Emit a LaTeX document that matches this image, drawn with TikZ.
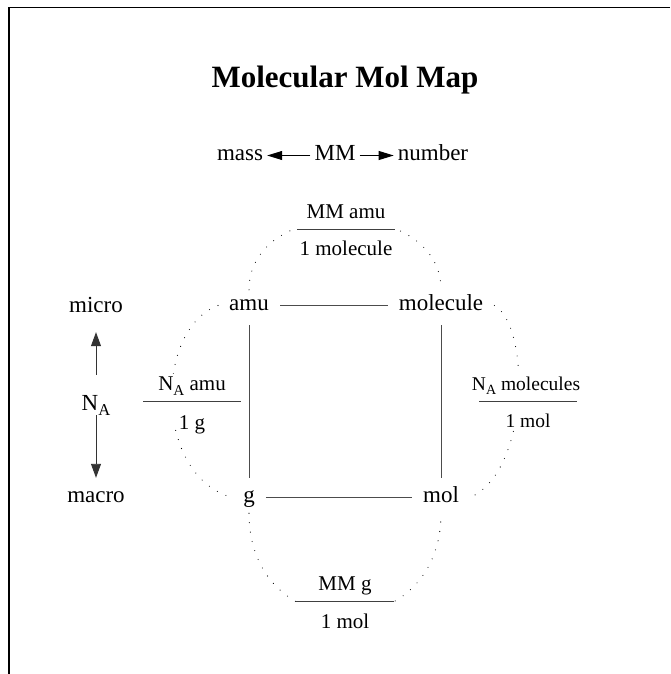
\documentclass[tikz,border=0pt]{standalone}
\usepackage{fontspec}
\usepackage{graphicx}
\setmainfont{Liberation Serif}
\usetikzlibrary{arrows.meta,calc}
\newcommand\NAsub{N\raisebox{-0.25em}{\scalebox{0.72}{A}}}
\begin{document}
\begin{tikzpicture}[x=1pt,y=-1pt,
  lbl/.style={font=\fontsize{23}{27}\selectfont, anchor=base, text height=15pt, text depth=6pt, inner ysep=5pt, inner xsep=11pt},
  toplbl/.style={lbl, inner xsep=4pt},
  fracbox/.style={fill=white, minimum width=97pt, minimum height=54pt, inner sep=0pt},
  fractxt/.style={font=\fontsize{21}{25}\selectfont, anchor=base, inner sep=0pt},
  smallfrac/.style={fractxt, font=\fontsize{19.5}{23}\selectfont},
  bar/.style={line width=0.9pt, black!75},
  edge/.style={line width=0.9pt, black!70},
  dots/.style={line width=1.1pt, dash pattern=on 0pt off 9.5pt, line cap=round},
  tip/.style={-{Triangle[length=15pt,width=9pt]}, line width=0.9pt},
  vtip/.style={-{Triangle[length=14pt,width=10pt]}, line width=0.9pt, black!80}
]
\useasboundingbox (0,0) rectangle (670,674);
% frame
\coordinate (tr) at (670,7.5);
\coordinate (tl) at (9,7.5);
\coordinate (bl) at (9,674);
\draw[line width=1.5pt] (tr) -- (tl) -- (bl);
% title
\node[font=\bfseries\fontsize{31}{37}\selectfont, anchor=base, inner sep=0pt] (title) at (345,88) {Molecular Mol Map};
% mass line
\node[toplbl] (mass) at (240,160) {mass};
\node[toplbl] (mm) at (335,160) {MM};
\node[toplbl] (number) at (433,160) {number};
\draw[tip] (mm.west) -- (mass.east);
\draw[tip] (mm.east) -- (number.west);
% left scale
\node[lbl] (micro) at (96,312) {micro};
\node[lbl, text height=15pt, text depth=4pt, inner ysep=0pt] (na) at (96,410) {\NAsub};
\node[lbl] (macro) at (96,502) {macro};
\draw[vtip, shorten <=20pt, shorten >=9pt] (na.north) -- (micro.south);
\draw[vtip, shorten <=1pt, shorten >=4pt] (na.south) -- (macro.north);
% square
\node[lbl] (amu) at (249,310) {amu};
\node[lbl] (molecule) at (441,310) {molecule};
\node[lbl] (g) at (249,502) {g};
\node[lbl] (mol) at (441,502) {mol};
\draw[edge] (amu) -- (molecule);
\draw[edge] (g) -- (mol);
\draw[edge, shorten <=4pt, shorten >=4pt] (amu) -- (g);
\draw[edge, shorten <=4pt, shorten >=4pt] (molecule) -- (mol);
% dotted arcs
\draw[dots] (amu.north) .. controls +(0,-94) and +(0,-94) .. (molecule.north);
\draw[dots] (amu.west) .. controls +(-64,24) and +(-78,-22) .. (g.west);
\draw[dots] (molecule.east) .. controls +(36,20) and +(60,-27) .. (mol.east);
\draw[dots] (g.south) .. controls +(0,135) and +(0,135) .. (mol.south);
% fractions
\node[fracbox] (fa) at (346,229) {};
\draw[bar] (fa.west) -- (fa.east);
\node[fractxt] (fan) at ($(fa)+(0,-11)$) {MM amu};
\node[fractxt] (fad) at ($(fa)+(0,26)$) {1 molecule};
\node[fracbox] (fb) at (192,401) {};
\draw[bar] (fb.west) -- (fb.east);
\node[fractxt] (fbn) at ($(fb)+(0,-11)$) {\NAsub{} amu};
\node[fractxt] (fbd) at ($(fb)+(0,28)$) {1 g};
\node[fracbox] (fc) at (528,401) {};
\draw[bar] (fc.west) -- (fc.east);
\node[smallfrac] (fcn) at ($(fc)+(-2,-11)$) {\NAsub{} molecules};
\node[smallfrac] (fcd) at ($(fc)+(0,26)$) {1 mol};
\node[fracbox] (fd) at (345,601) {};
\draw[bar] (fd.west) -- (fd.east);
\node[fractxt] (fdn) at ($(fd)+(0,-11)$) {MM g};
\node[fractxt] (fdd) at ($(fd)+(0,27)$) {1 mol};
\end{tikzpicture}
\end{document}
